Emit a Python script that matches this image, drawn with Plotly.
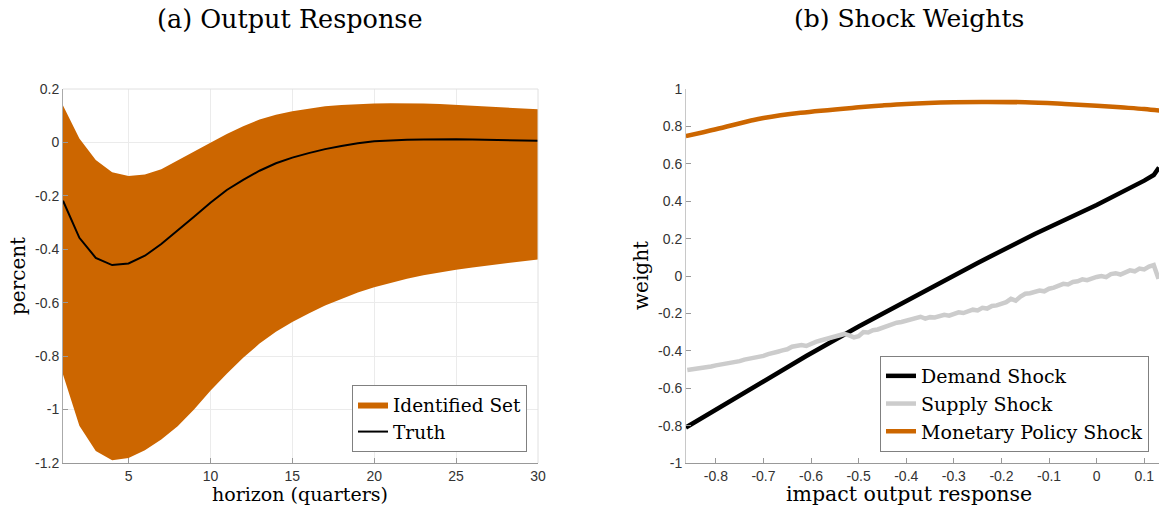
import plotly.graph_objects as go

# ---------------- data: panel (a) ----------------
horizon = list(range(1, 31))
upper = [0.138, 0.015, -0.066, -0.112, -0.126, -0.120, -0.100, -0.068, -0.035, -0.001,
         0.032, 0.061, 0.086, 0.104, 0.117, 0.127, 0.135, 0.140, 0.144, 0.146,
         0.147, 0.147, 0.146, 0.144, 0.141, 0.138, 0.135, 0.131, 0.127, 0.124]
lower = [-0.869, -1.061, -1.155, -1.190, -1.181, -1.152, -1.112, -1.062, -1.000, -0.930,
         -0.866, -0.806, -0.753, -0.709, -0.672, -0.640, -0.610, -0.585, -0.562, -0.542,
         -0.525, -0.510, -0.497, -0.487, -0.477, -0.468, -0.460, -0.452, -0.445, -0.438]
truth = [-0.218, -0.357, -0.432, -0.459, -0.453, -0.424, -0.380, -0.330, -0.278, -0.226,
         -0.178, -0.140, -0.106, -0.078, -0.057, -0.040, -0.025, -0.013, -0.003, 0.004,
         0.008, 0.010, 0.011, 0.012, 0.012, 0.011, 0.010, 0.009, 0.008, 0.006]

# ---------------- data: panel (b) ----------------
demand_x = [-0.863, -0.80, -0.70, -0.61, -0.50, -0.37, -0.25, -0.13, 0.0, 0.10, 0.12, 0.131]
demand_y = [-0.810, -0.715, -0.565, -0.428, -0.270, -0.090, 0.070, 0.225, 0.380, 0.510, 0.540, 0.580]

supply_x = [round(-0.86 + 0.01 * i, 2) for i in range(100)]
supply_y = [-0.503, -0.500, -0.497, -0.493, -0.490, -0.484, -0.478, -0.474, -0.468, -0.466,
            -0.458, -0.455, -0.447, -0.443, -0.438, -0.430, -0.427, -0.418, -0.414, -0.405,
            -0.398, -0.392, -0.378, -0.372, -0.369, -0.374, -0.360, -0.352, -0.345, -0.338,
            -0.333, -0.330, -0.318, -0.310, -0.318, -0.328, -0.322, -0.300, -0.302, -0.290,
            -0.286, -0.276, -0.270, -0.262, -0.250, -0.246, -0.238, -0.228, -0.226, -0.218,
            -0.228, -0.220, -0.222, -0.212, -0.208, -0.212, -0.200, -0.194, -0.198, -0.186,
            -0.180, -0.184, -0.170, -0.174, -0.160, -0.157, -0.148, -0.140, -0.122, -0.132,
            -0.110, -0.095, -0.092, -0.085, -0.078, -0.082, -0.068, -0.062, -0.050, -0.042,
            -0.045, -0.032, -0.028, -0.018, -0.022, -0.012, -0.005, 0.000, -0.006, 0.010,
            0.015, 0.008, 0.022, 0.030, 0.025, 0.040, 0.035, 0.050, 0.058, -0.015]

monetary_x = [-0.863, -0.80, -0.728, -0.70, -0.622, -0.50, -0.45, -0.40, -0.30, -0.242,
              -0.15, -0.067, 0.0, 0.05, 0.10, 0.133]
monetary_y = [0.748, 0.785, 0.830, 0.845, 0.873, 0.902, 0.912, 0.920, 0.929, 0.931,
              0.929, 0.920, 0.911, 0.902, 0.893, 0.884]

left_yticks = [0.2, 0, -0.2, -0.4, -0.6, -0.8, -1, -1.2]
left_ytext = ["0.2", "0", "-0.2", "-0.4", "-0.6", "-0.8", "-1", "-1.2"]
left_xticks = [5, 10, 15, 20, 25, 30]
right_yticks = [1, 0.8, 0.6, 0.4, 0.2, 0, -0.2, -0.4, -0.6, -0.8, -1]
right_ytext = ["1", "0.8", "0.6", "0.4", "0.2", "0", "-0.2", "-0.4", "-0.6", "-0.8", "-1"]
right_xticks = [-0.8, -0.7, -0.6, -0.5, -0.4, -0.3, -0.2, -0.1, 0, 0.1]
right_xtext = ["-0.8", "-0.7", "-0.6", "-0.5", "-0.4", "-0.3", "-0.2", "-0.1", "0", "0.1"]

ORANGE = "#CC6600"
SERIF = "DejaVu Serif"
SANS = "Liberation Sans, Arial, sans-serif"

W, H = 1159, 509

fig = go.Figure()

# identified set band
fig.add_trace(go.Scatter(
    x=horizon + horizon[::-1], y=upper + lower[::-1],
    fill="toself", fillcolor=ORANGE, mode="lines", line=dict(width=0, color=ORANGE),
    name="Identified Set", xaxis="x", yaxis="y", legend="legend", hoverinfo="skip"))
fig.add_trace(go.Scatter(
    x=horizon, y=truth, mode="lines", line=dict(color="black", width=2),
    name="Truth", xaxis="x", yaxis="y", legend="legend"))

fig.add_trace(go.Scatter(
    x=demand_x, y=demand_y, mode="lines", line=dict(color="black", width=4.5),
    name="Demand Shock", xaxis="x2", yaxis="y2", legend="legend2"))
fig.add_trace(go.Scatter(
    x=supply_x, y=supply_y, mode="lines", line=dict(color="#CCCCCC", width=4.5),
    name="Supply Shock", xaxis="x2", yaxis="y2", legend="legend2"))
fig.add_trace(go.Scatter(
    x=monetary_x, y=monetary_y, mode="lines", line=dict(color=ORANGE, width=4.5, shape="spline"),
    name="Monetary Policy Shock", xaxis="x2", yaxis="y2", legend="legend2"))

ydom = [1 - 463 / H, 1 - 89 / H]
axis_common = dict(ticks="inside", ticklen=5, tickcolor="#999999", showline=True,
                   tickfont=dict(family=SANS, size=14, color="#333333"),
                   zeroline=False, automargin=False)

fig.update_layout(
    width=W, height=H,
    margin=dict(l=0, r=0, t=0, b=0),
    paper_bgcolor="white", plot_bgcolor="white",
    xaxis=dict(domain=[63 / W, 538 / W], range=[1, 30], tickvals=left_xticks,
               showgrid=True, gridcolor="#EBEBEB", linecolor="#999999", anchor="y",
               **axis_common),
    yaxis=dict(domain=ydom, range=[-1.2, 0.2], tickvals=left_yticks, ticktext=left_ytext,
               showgrid=True, gridcolor="#EBEBEB", linecolor="#AAAAAA", anchor="x",
               **axis_common),
    xaxis2=dict(domain=[686 / W, 1.0], range=[-0.8627, 0.131], tickvals=right_xticks,
                ticktext=right_xtext, showgrid=False, linecolor="#999999", anchor="y2",
                **axis_common),
    yaxis2=dict(domain=ydom, range=[-1, 1], tickvals=right_yticks, ticktext=right_ytext,
                showgrid=False, linecolor="#C8C8C8", anchor="x2", **axis_common),
    legend=dict(x=527 / W, y=1 - 452 / H, xanchor="right", yanchor="bottom",
                bgcolor="white", bordercolor="#808080", borderwidth=1,
                font=dict(family=SERIF, size=18.5, color="black"), itemwidth=30,
                tracegroupgap=0),
    legend2=dict(x=1149 / W, y=1 - 452 / H, xanchor="right", yanchor="bottom",
                 bgcolor="white", bordercolor="#808080", borderwidth=1,
                 font=dict(family=SERIF, size=19, color="black"), itemwidth=30,
                 tracegroupgap=0),
    showlegend=True,
)

# light box on top/right of panel (a)
fig.add_shape(type="line", xref="x domain", yref="y domain", x0=0, x1=1, y0=1, y1=1,
              line=dict(color="#E0E0E0", width=1))
fig.add_shape(type="line", xref="x domain", yref="y domain", x0=1, x1=1, y0=0, y1=1,
              line=dict(color="#E0E0E0", width=1))

ann = [
    ("(a) Output Response", 290 / W, 1 - 19 / H, 25.5, 0),
    ("(b) Shock Weights", 909 / W, 1 - 19 / H, 25, 0),
    ("horizon (quarters)", 300 / W, 1 - 494 / H, 19, 0),
    ("impact output response", 909 / W, 1 - 494 / H, 20.5, 0),
    ("percent", 18 / W, 1 - 276 / H, 20, -90),
    ("weight", 641 / W, 1 - 276 / H, 20, -90),
]
for text, x, y, size, ang in ann:
    fig.add_annotation(text=text, x=x, y=y, xref="paper", yref="paper",
                       xanchor="center", yanchor="middle", showarrow=False,
                       textangle=ang, font=dict(family=SERIF, size=size, color="black"))

fig.write_html("out.html", config={"displayModeBar": False},
               post_script="document.body.style.margin='0px';document.body.style.overflow='hidden';")
